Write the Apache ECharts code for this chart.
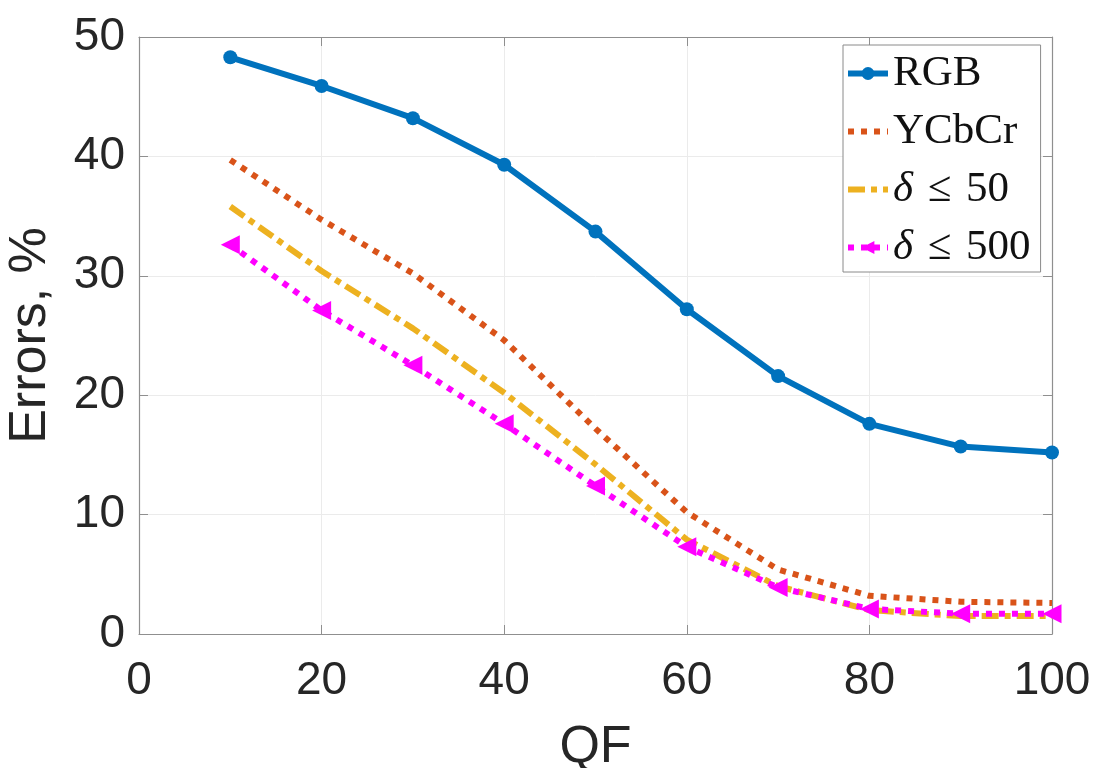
<!DOCTYPE html>
<html>
<head>
<meta charset="utf-8">
<script src="https://cdn.jsdelivr.net/npm/echarts@6/dist/echarts.min.js"></script>
<style>
html,body{margin:0;padding:0;background:#fff;}
#chart{width:1096px;height:768px;}
</style>
</head>
<body>
<div id="chart"></div>
<script>
// ---- data ----
const qf = [10, 20, 30, 40, 50, 60, 70, 80, 90, 100];
const rgb = [48.3, 45.9, 43.2, 39.3, 33.7, 27.2, 21.6, 17.6, 15.7, 15.2];
const ycbcr = [39.7, 34.7, 30.2, 24.6, 17.2, 10.2, 5.4, 3.2, 2.7, 2.6];
const delta50 = [35.8, 30.4, 25.6, 20.2, 14.2, 7.9, 4.0, 2.0, 1.5, 1.5];
const delta500 = [32.6, 27.1, 22.5, 17.6, 12.4, 7.3, 3.9, 2.1, 1.7, 1.7];
const seriesNames = ['RGB', 'YCbCr', 'δ ≤ 50', 'δ ≤ 500'];
const xTicks = [0, 20, 40, 60, 80, 100];
const yTicks = [0, 10, 20, 30, 40, 50];
const xName = 'QF';
const yName = 'Errors, %';

const pair = (ys) => qf.map((x, i) => [x, ys[i]]);

const chart = echarts.init(document.getElementById('chart'), null, {renderer: 'canvas'});
const axisCol = '#8f8f8f';
const labelCol = '#262626';
const sans = 'Liberation Sans, Arial, sans-serif';
const serif = 'Liberation Serif, serif';

const option = {
  backgroundColor: '#ffffff',
  animation: false,
  grid: {left: 139, right: 44, top: 37, bottom: 134, show: false, outerBoundsMode: 'none', containLabel: false},
  legend: {
    orient: 'vertical',
    left: 843,
    top: 45,
    padding: [7, 10, 3, 2],
    itemGap: 15,
    itemWidth: 40,
    itemHeight: 16,
    backgroundColor: '#ffffff',
    borderColor: '#8a8a8a',
    borderWidth: 1,
    borderRadius: 0,
    lineStyle: {width: 6},
    data: [
      {name: seriesNames[0]},
      {name: seriesNames[1], itemStyle: {opacity: 0}},
      {name: seriesNames[2], itemStyle: {opacity: 0}},
      {name: seriesNames[3]}
    ],
    formatter: (n) => n.replace('δ', '{i|δ}').replace('≤', '{s|≤}'),
    textStyle: {
      fontFamily: serif,
      fontSize: 43,
      color: '#111',
      lineHeight: 43,
      rich: {
        i: {fontFamily: serif, fontStyle: 'italic', fontSize: 43, color: '#111'},
        s: {fontFamily: serif, fontSize: 43, color: '#111', padding: [0, 4, 0, 4]}
      }
    }
  },
  xAxis: [{
    type: 'value', min: xTicks[0], max: xTicks[xTicks.length - 1], interval: 20,
    name: xName, nameLocation: 'middle', nameGap: 88,
    nameTextStyle: {fontFamily: sans, fontSize: 52, color: labelCol},
    axisLine: {show: true, lineStyle: {color: axisCol, width: 1.2}},
    axisTick: {show: true, inside: true, length: 9, lineStyle: {color: axisCol}},
    axisLabel: {fontFamily: sans, fontSize: 46, color: labelCol, margin: 24},
    splitLine: {show: true, lineStyle: {color: '#ebebeb', width: 1}}
  }, {
    type: 'value', position: 'top', min: xTicks[0], max: xTicks[xTicks.length - 1], interval: 20,
    axisLine: {show: true, onZero: false, lineStyle: {color: axisCol, width: 1.2}},
    axisTick: {show: true, inside: true, length: 9, lineStyle: {color: axisCol}},
    axisLabel: {show: false}, splitLine: {show: false}
  }],
  yAxis: [{
    type: 'value', min: yTicks[0], max: yTicks[yTicks.length - 1], interval: 10,
    name: yName, nameLocation: 'middle', nameGap: 82, nameRotate: 90,
    nameTextStyle: {fontFamily: sans, fontSize: 52, color: labelCol},
    axisLine: {show: true, lineStyle: {color: axisCol, width: 1.2}},
    axisTick: {show: true, inside: true, length: 9, lineStyle: {color: axisCol}},
    axisLabel: {fontFamily: sans, fontSize: 46, color: labelCol, margin: 14},
    splitLine: {show: true, lineStyle: {color: '#ebebeb', width: 1}}
  }, {
    type: 'value', position: 'right', min: yTicks[0], max: yTicks[yTicks.length - 1], interval: 10,
    axisLine: {show: true, onZero: false, lineStyle: {color: axisCol, width: 1.2}},
    axisTick: {show: true, inside: true, length: 9, lineStyle: {color: axisCol}},
    axisLabel: {show: false}, splitLine: {show: false}
  }],
  series: [{
    name: seriesNames[0], type: 'line', data: pair(rgb),
    symbol: 'circle', symbolSize: 14,
    itemStyle: {color: '#0072BD'},
    lineStyle: {color: '#0072BD', width: 6}
  }, {
    name: seriesNames[1], type: 'line', data: pair(ycbcr),
    symbol: 'none',
    itemStyle: {color: '#D95319'},
    lineStyle: {color: '#D95319', width: 6, type: [6, 7], cap: 'butt'}
  }, {
    name: seriesNames[2], type: 'line', data: pair(delta50),
    symbol: 'none',
    itemStyle: {color: '#EDB120'},
    lineStyle: {color: '#EDB120', width: 6, type: [17, 6, 6, 6], cap: 'butt'}
  }, {
    name: seriesNames[3], type: 'line', data: pair(delta500),
    symbol: 'triangle', symbolSize: 19, symbolRotate: 90,
    itemStyle: {color: '#FF00FF'},
    lineStyle: {color: '#FF00FF', width: 6, type: [6, 7], cap: 'butt'}
  }]
};
chart.setOption(option);
</script>
</body>
</html>
